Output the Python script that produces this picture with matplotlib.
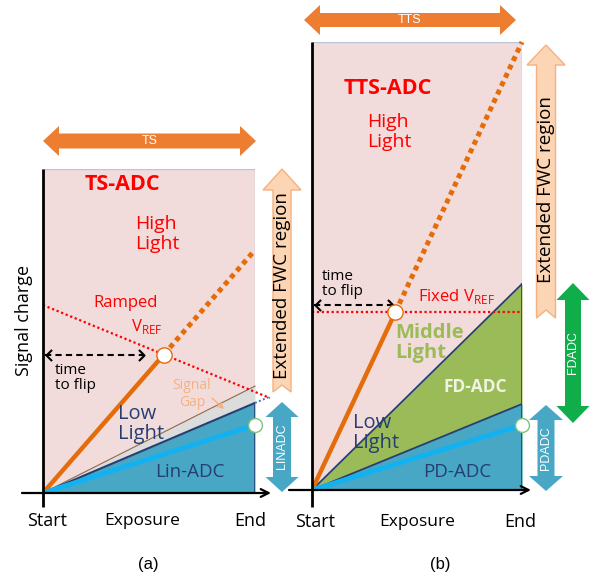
import matplotlib
matplotlib.use('Agg')
import matplotlib.pyplot as plt
from matplotlib.path import Path
from matplotlib.patches import Polygon

plt.rcParams['font.family'] = ['Open Sans', 'DejaVu Sans']
plt.rcParams['mathtext.fontset'] = 'custom'
plt.rcParams['mathtext.rm'] = 'Open Sans'

# exposure goes from Start (0) to End (1), signal is scaled to the box top
exposure = [0.0, 1.0]

# (a) TS-ADC
ts_high_slope = 0.75     # high light ramp
ts_vref_start = 0.58     # ramped reference at Start
ts_vref_slope = -0.268
ts_vref_stop = 1.07
ts_gap_top = 0.33        # top of the signal gap
ts_lin_top = 0.278       # Lin-ADC range
ts_pd_end = 0.21         # low light signal at End

# (b) TTS-ADC
tts_high_slope = 1.0
tts_vref = 0.397         # fixed reference
tts_fd_top = 0.46        # FD-ADC range
tts_pd_top = 0.192       # PD-ADC range
tts_pd_end = 0.145

PINK = '#f2dcdb'
BOX_EDGE = '#b8c4dc'
TEAL = '#47a7c5'
GREEN_FILL = '#9bbb59'
NAVY = '#263f73'
ORANGE = '#e46c0a'
CYAN = '#12b2f2'
RED = '#ff0000'
PEACH = '#fcd5b4'
ARROW_ORANGE = '#ed7d31'
ADC_GREEN = '#0fae4b'

W, H = 598, 582
fig = plt.figure(figsize=(W / 100, H / 100), dpi=100)

chev_r = Path([(-1, 1), (0, 0), (-1, -1)], [Path.MOVETO, Path.LINETO, Path.LINETO])
chev_l = Path([(1, 1), (0, 0), (1, -1)], [Path.MOVETO, Path.LINETO, Path.LINETO])


def panel(left, top, right, bottom):
    ax = fig.add_axes([left / W, 1 - bottom / H, (right - left) / W, (bottom - top) / H])
    ax.set_xlim(0, 1)
    ax.set_ylim(0, 1)
    ax.set_facecolor(PINK)
    for s in ax.spines.values():
        s.set_visible(False)
    ax.set_xticks([])
    ax.set_yticks([])
    ax.plot([0, 1, 1], [1, 1, 0], color=BOX_EDGE, lw=1, zorder=1)
    return ax


def flip_marks(ax, t, y, arrow_y, arrow_end):
    ax.plot([0.01, arrow_end], [arrow_y, arrow_y], color='k', lw=1.5, ls=(0, (3, 2)), zorder=5)
    ax.plot([arrow_end], [arrow_y], marker=chev_r, ms=8, mew=1.5, color='k', fillstyle='none', zorder=5)
    ax.plot([0.012], [arrow_y], marker=chev_l, ms=8, mew=1.5, color='k', fillstyle='none', zorder=5)
    ax.plot([t], [y], 'o', ms=11, mfc='white', mec=ORANGE, mew=1, zorder=6, clip_on=False)


# ---- panel (a)
ax_a = panel(43, 169, 255, 493)
ax_a.fill_between(exposure, [0, ts_gap_top], [0, ts_lin_top], color='#dcdcdc', lw=0, zorder=2)
ax_a.plot(exposure, [0, ts_gap_top], color='#8b6b4a', lw=0.8, zorder=3, clip_on=False)
ax_a.fill_between(exposure, 0, [0, ts_lin_top], color=TEAL, lw=0, zorder=2)
ax_a.plot(exposure, [0, ts_lin_top], color=NAVY, lw=1.5, zorder=3)
ax_a.plot([1, 1], [0, ts_lin_top], color=NAVY, lw=1.2, zorder=3)
ax_a.plot([1, ts_vref_stop], [ts_lin_top, ts_lin_top * ts_vref_stop], color='#4472c4',
          lw=1.4, ls=(0, (1, 1.2)), zorder=3, clip_on=False)

t_a = ts_vref_start / (ts_high_slope - ts_vref_slope)
y_a = ts_high_slope * t_a
ax_a.plot([0, ts_vref_stop],
          [ts_vref_start, ts_vref_start + ts_vref_slope * ts_vref_stop],
          color=RED, lw=1.6, ls=(0, (1, 1.2)), zorder=4, clip_on=False)
ax_a.plot([0, t_a], [0, y_a], color=ORANGE, lw=3.2, zorder=4, solid_capstyle='butt')
ax_a.plot([t_a, 1], [y_a, ts_high_slope], color=ORANGE, lw=3.6, ls=(0, (1, 0.85)),
          zorder=4, dash_capstyle='butt')
ax_a.plot(exposure, [0, ts_pd_end], color=CYAN, lw=3.5, zorder=4, solid_capstyle='butt')
ax_a.plot([1], [ts_pd_end], 'o', ms=10, mfc='white', mec='#7cc47c', mew=1, zorder=6, clip_on=False)
flip_marks(ax_a, t_a, y_a, y_a, t_a - 0.094)

# ---- panel (b)
ax_b = panel(312, 42, 522, 490)
ax_b.fill_between(exposure, 0, [0, tts_fd_top], color=GREEN_FILL, lw=0, zorder=2)
ax_b.plot(exposure, [0, tts_fd_top], color=NAVY, lw=1.3, zorder=3)
ax_b.fill_between(exposure, 0, [0, tts_pd_top], color=TEAL, lw=0, zorder=2)
ax_b.plot(exposure, [0, tts_pd_top], color=NAVY, lw=1.3, zorder=3)
ax_b.plot([1, 1], [0, tts_fd_top], color=NAVY, lw=1.2, zorder=3)

t_b = tts_vref / tts_high_slope
ax_b.plot(exposure, [tts_vref, tts_vref], color=RED, lw=1.6, ls=(0, (1, 1.2)), zorder=4)
ax_b.plot([0, t_b], [0, tts_vref], color=ORANGE, lw=3.2, zorder=4, solid_capstyle='butt')
ax_b.plot([t_b, 1], [tts_vref, tts_high_slope], color=ORANGE, lw=3.6, ls=(0, (1, 0.85)),
          zorder=4, dash_capstyle='butt', clip_on=False)
ax_b.plot(exposure, [0, tts_pd_end], color=CYAN, lw=3.5, zorder=4, solid_capstyle='butt')
ax_b.plot([1], [tts_pd_end], 'o', ms=10, mfc='white', mec='#7cc47c', mew=1, zorder=6, clip_on=False)
flip_marks(ax_b, t_b, tts_vref, tts_vref + 0.016, t_b - 0.01)

# ---- overlay for axes arrows, labels and range arrows (pixel units)
ov = fig.add_axes([0, 0, 1, 1])
ov.set_xlim(0, W)
ov.set_ylim(H, 0)
ov.axis('off')


def double_arrow(start, stop, centre, shaft, head, head_len, color, vertical=False):
    s, h = shaft / 2, head / 2
    u = [start, start + head_len, start + head_len, stop - head_len, stop - head_len,
         stop, stop - head_len, stop - head_len, start + head_len, start + head_len]
    v = [0, h, s, s, h, 0, -h, -s, -s, -h]
    pts = [(centre + b, a) if vertical else (a, centre + b) for a, b in zip(u, v)]
    ov.add_patch(Polygon(pts, closed=True, fc=color, ec='none'))


def fwc_arrow(x, tip, head_base, tail, notch, shaft, head):
    s, h = shaft / 2, head / 2
    pts = [(x, tip), (x + h, head_base), (x + s, head_base), (x + s, tail), (x, tail - notch),
           (x - s, tail), (x - s, head_base), (x - h, head_base)]
    ov.add_patch(Polygon(pts, closed=True, fc=PEACH, ec='#f4b183', lw=1))


def axes_lines(x0, y0, top, left, right, bottom):
    ov.plot([x0, x0], [top, bottom], color='k', lw=2, solid_capstyle='butt')
    ov.annotate('', xy=(right, y0), xytext=(left, y0),
                arrowprops=dict(arrowstyle='->', lw=1.6, color='k', shrinkA=0, shrinkB=0,
                                mutation_scale=14))


axes_lines(43, 493, 169, 22, 271, 507)
axes_lines(312, 490, 42, 289, 531, 507)

# range arrows
double_arrow(43, 256, 141, 15, 30, 16, ARROW_ORANGE)
double_arrow(304, 516, 20, 14, 30, 16, ARROW_ORANGE)
double_arrow(402, 492, 282, 18, 33, 15, TEAL, vertical=True)
double_arrow(405, 491, 546, 17, 34, 15, TEAL, vertical=True)
double_arrow(283, 423, 573, 16, 33, 17, ADC_GREEN, vertical=True)
fwc_arrow(282, 169, 190, 392, 7, 18, 38)
fwc_arrow(546, 45, 65, 318, 8, 19, 38)

arial = ['Liberation Sans', 'DejaVu Sans']
ov.text(150, 141, 'TS', color='white', fontsize=9, ha='center', va='center', family=arial)
ov.text(410, 20, 'TTS', color='white', fontsize=9, ha='center', va='center', family=arial)
ov.text(282, 446, 'LINADC', color='white', fontsize=9, ha='center', va='center',
        rotation=90, family=arial)
ov.text(546, 448, 'PDADC', color='white', fontsize=9, ha='center', va='center',
        rotation=90, family=arial)
ov.text(573, 353, 'FDADC', color='white', fontsize=9, ha='center', va='center',
        rotation=90, family=arial)
ov.text(282, 286, 'Extended FWC region', fontsize=13.5, ha='center', va='center', rotation=90)
ov.text(546, 190, 'Extended FWC region', fontsize=13.5, ha='center', va='center', rotation=90)

# panel (a) labels
ov.text(122, 185, 'TS-ADC', color=RED, fontsize=15.5, fontweight='bold', ha='center', va='center')
ov.text(135, 234, 'High\nLight', color=RED, fontsize=14, ha='left', va='center', linespacing=1.1)
ov.text(126, 303, 'Ramped', color=RED, fontsize=12, ha='center', va='center')
ov.text(147, 326, r'V$_{\mathrm{REF}}$', color=RED, fontsize=12, ha='center', va='center')
ov.text(55, 378, 'time\nto flip', fontsize=11, ha='left', va='center', linespacing=1.05)
ov.text(192, 394, 'Signal\nGap', color='#f4b183', fontsize=10, ha='center', va='center',
        linespacing=1.15)
ov.annotate('', xy=(224, 409), xytext=(212, 398),
            arrowprops=dict(arrowstyle='->', color='#f4b183', lw=1, shrinkA=0, shrinkB=0))
ov.text(118, 424, 'Low\nLight', color=NAVY, fontsize=14.5, ha='left', va='center', linespacing=1.0)
ov.text(190, 472, 'Lin-ADC', color=NAVY, fontsize=13.5, ha='center', va='center')
ov.text(24, 320, 'Signal charge', fontsize=13, ha='center', va='center', rotation=90)

# panel (b) labels
ov.text(388, 88, 'TTS-ADC', color=RED, fontsize=15.5, fontweight='bold', ha='center', va='center')
ov.text(367, 132, 'High\nLight', color=RED, fontsize=14, ha='left', va='center', linespacing=1.1)
ov.text(322, 284, 'time\nto flip', fontsize=11, ha='left', va='center', linespacing=1.05)
ov.text(456, 297, r'Fixed V$_{\mathrm{REF}}$', color=RED, fontsize=12, ha='center', va='center')
ov.text(395, 343, 'Middle\nLight', color=GREEN_FILL, fontsize=14.5, fontweight='bold',
        ha='left', va='center', linespacing=1.0)
ov.text(475, 387, 'FD-ADC', color='#eef3e2', fontsize=12.5, fontweight='bold', ha='center', va='center')
ov.text(353, 433, 'Low\nLight', color=NAVY, fontsize=14.5, ha='left', va='center', linespacing=1.0)
ov.text(457, 472, 'PD-ADC', color=NAVY, fontsize=13.5, ha='center', va='center')

# exposure axis labels
for x0, y0 in [(0, 521), (270, 522)]:
    ov.text(47 + x0 - (2 if x0 else 0), y0, 'Start', fontsize=13, ha='center', va='center')
    ov.text(142 + x0 + 5 * (x0 > 0), y0, 'Exposure', fontsize=12.5, ha='center', va='center')
    ov.text(250 + x0, y0, 'End', fontsize=13, ha='center', va='center')

ov.text(148, 565, '(a)', fontsize=12, ha='center', va='center', family=arial)
ov.text(440, 565, '(b)', fontsize=12, ha='center', va='center', family=arial)

fig.savefig('out.png', dpi=100)
